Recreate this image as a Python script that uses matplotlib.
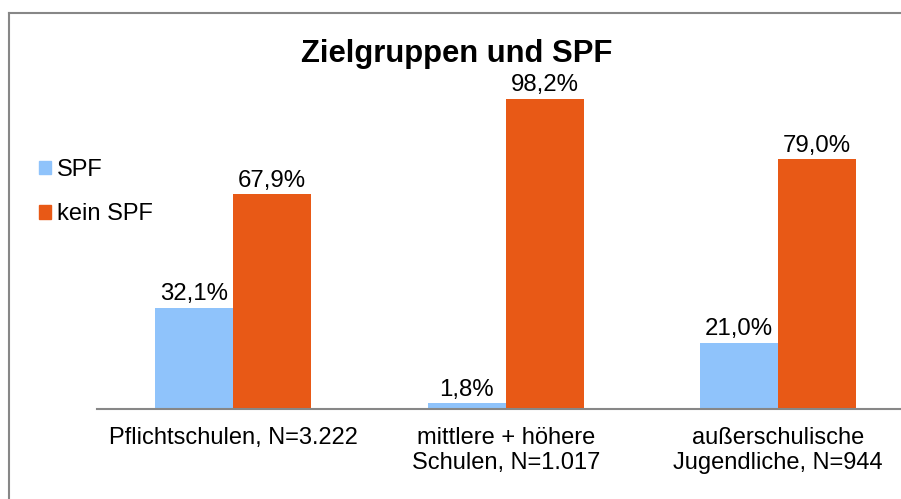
import numpy as np
import matplotlib.pyplot as plt
from matplotlib.lines import Line2D
from matplotlib.patches import Patch

plt.rcParams['font.family'] = ['Liberation Sans', 'DejaVu Sans']

# Daten
kategorien = ['Pflichtschulen, N=3.222',
              'mittlere + höhere\nSchulen, N=1.017',
              'außerschulische\nJugendliche, N=944']
spf = [32.1, 1.8, 21.0]
kein_spf = [67.9, 98.2, 79.0]
serien = ['SPF', 'kein SPF']
farben = ['#8FC3FB', '#E85916']
grau = '#878787'

fig = plt.figure(figsize=(9.01, 4.99), dpi=100)
ax = fig.add_axes([0.1077, 0.1804, 0.9073, 0.6333])

x = np.arange(len(kategorien))
w = 0.286
b1 = ax.bar(x - w / 2, spf, w, color=farben[0])
b2 = ax.bar(x + w / 2, kein_spf, w, color=farben[1])

def fmt(werte):
    return [f'{v:.1f}%'.replace('.', ',') for v in werte]

ax.bar_label(b1, labels=fmt(spf), padding=2, fontsize=17.3, clip_on=False)
ax.bar_label(b2, labels=fmt(kein_spf), padding=2, fontsize=17.3, clip_on=False)

ax.set_xlim(-0.5, 2.5)
ax.set_ylim(0, 100)
ax.set_yticks([])
ax.set_xticks(x)
ax.set_xticklabels(kategorien, fontsize=17, linespacing=1.15)
ax.tick_params(axis='x', length=0, pad=13)
for s in ['top', 'right', 'left']:
    ax.spines[s].set_visible(False)
ax.spines['bottom'].set_color(grau)
ax.spines['bottom'].set_linewidth(1.5)

# Titel
fig.text(0.507, 1 - 62 / 499, 'Zielgruppen und SPF', ha='center', va='baseline',
         fontsize=22.3, fontweight='bold')

# Legende
handles = [Patch(color=c, label=l) for c, l in zip(farben, serien)]
fig.legend(handles=handles, loc='center left', bbox_to_anchor=(0.0433, 0.615),
           frameon=False, fontsize=17, handlelength=0.52, handleheight=0.52,
           handletextpad=0.25, labelspacing=0.95, borderpad=0, borderaxespad=0)

# Rahmen (nur links und oben sichtbar)
fig.add_artist(Line2D([0.0095, 0.0095], [0, 1 - 13 / 499], color=grau, lw=1.5,
                      transform=fig.transFigure))
fig.add_artist(Line2D([0.0095, 1], [1 - 13 / 499, 1 - 13 / 499], color=grau, lw=1.5,
                      transform=fig.transFigure))

fig.savefig('out.png', dpi=100)
